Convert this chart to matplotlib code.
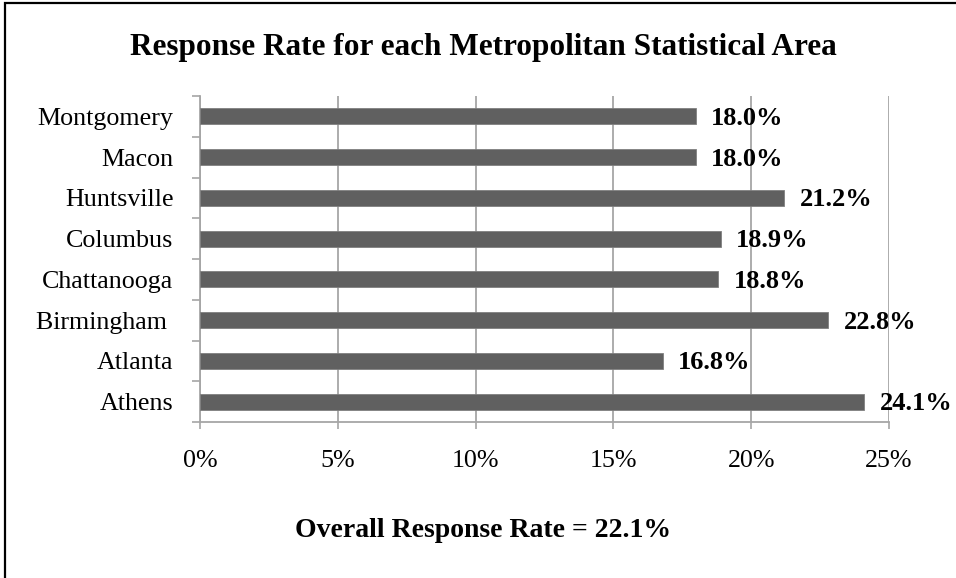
import matplotlib
matplotlib.use("Agg")
import matplotlib.pyplot as plt
from matplotlib.patches import Rectangle
from matplotlib.ticker import FixedLocator, PercentFormatter

# response rates by metro area (bottom to top)
areas = ["Athens", "Atlanta", "Birmingham ", "Chattanooga", "Columbus",
         "Huntsville", "Macon", "Montgomery"]
rates = [24.1, 16.8, 22.8, 18.8, 18.9, 21.2, 18.0, 18.0]
overall_rate = 22.1

plt.rcParams["font.family"] = ["Liberation Serif", "DejaVu Serif"]

W, H = 956, 578
fig = plt.figure(figsize=(W / 100, H / 100), dpi=100)
ax = fig.add_axes([200 / W, 1 - 422 / H, (889 - 200) / W, (422 - 96) / H])

grid_c = "#a6a6a6"
pos = list(range(len(areas)))
ax.barh(pos, rates, height=0.39, color="#606060", edgecolor="#808080",
        linewidth=0.6, zorder=3)

for y, r in zip(pos, rates):
    ax.annotate(f"{r:.1f}%", (r, y), xytext=(11, -1.5), textcoords="offset points",
                ha="left", va="center", fontsize=19, fontweight="bold", zorder=4)

ax.set_xlim(0, 25)
ax.set_ylim(-0.5, len(areas) - 0.5)
ax.set_xticks([0, 5, 10, 15, 20, 25])
ax.xaxis.set_major_formatter(PercentFormatter(decimals=0))
ax.set_yticks(pos)
ax.set_yticklabels(areas)
ax.yaxis.set_minor_locator(FixedLocator([i - 0.5 for i in range(len(areas) + 1)]))

ax.tick_params(axis="y", which="major", length=0, pad=19, labelsize=18.7)
ax.tick_params(axis="y", which="minor", length=6, width=1.2, color=grid_c)
ax.tick_params(axis="x", length=5, width=1.2, color=grid_c, pad=15.5, labelsize=18.7)

ax.grid(axis="x", color=grid_c, linewidth=1.3, zorder=0)
ax.set_axisbelow(True)
for side in ("top", "right"):
    ax.spines[side].set_visible(False)
for side in ("left", "bottom"):
    ax.spines[side].set_color(grid_c)
    ax.spines[side].set_linewidth(1.3)

fig.text(483 / W, 1 - 55 / H, "Response Rate for each Metropolitan Statistical Area",
         ha="center", va="baseline", fontsize=22.5, fontweight="bold")
fig.text(483 / W, 1 - 537 / H, f"Overall Response Rate = {overall_rate:.1f}%",
         ha="center", va="baseline", fontsize=20, fontweight="bold")

# outer chart border (right/bottom edges fall outside the canvas)
fig.patches.append(Rectangle((5 / W, -0.05), 1.2, 1 - 3 / H + 0.05,
                             transform=fig.transFigure, fill=False,
                             edgecolor="black", linewidth=1.6))

fig.savefig("out.png", dpi=100)
